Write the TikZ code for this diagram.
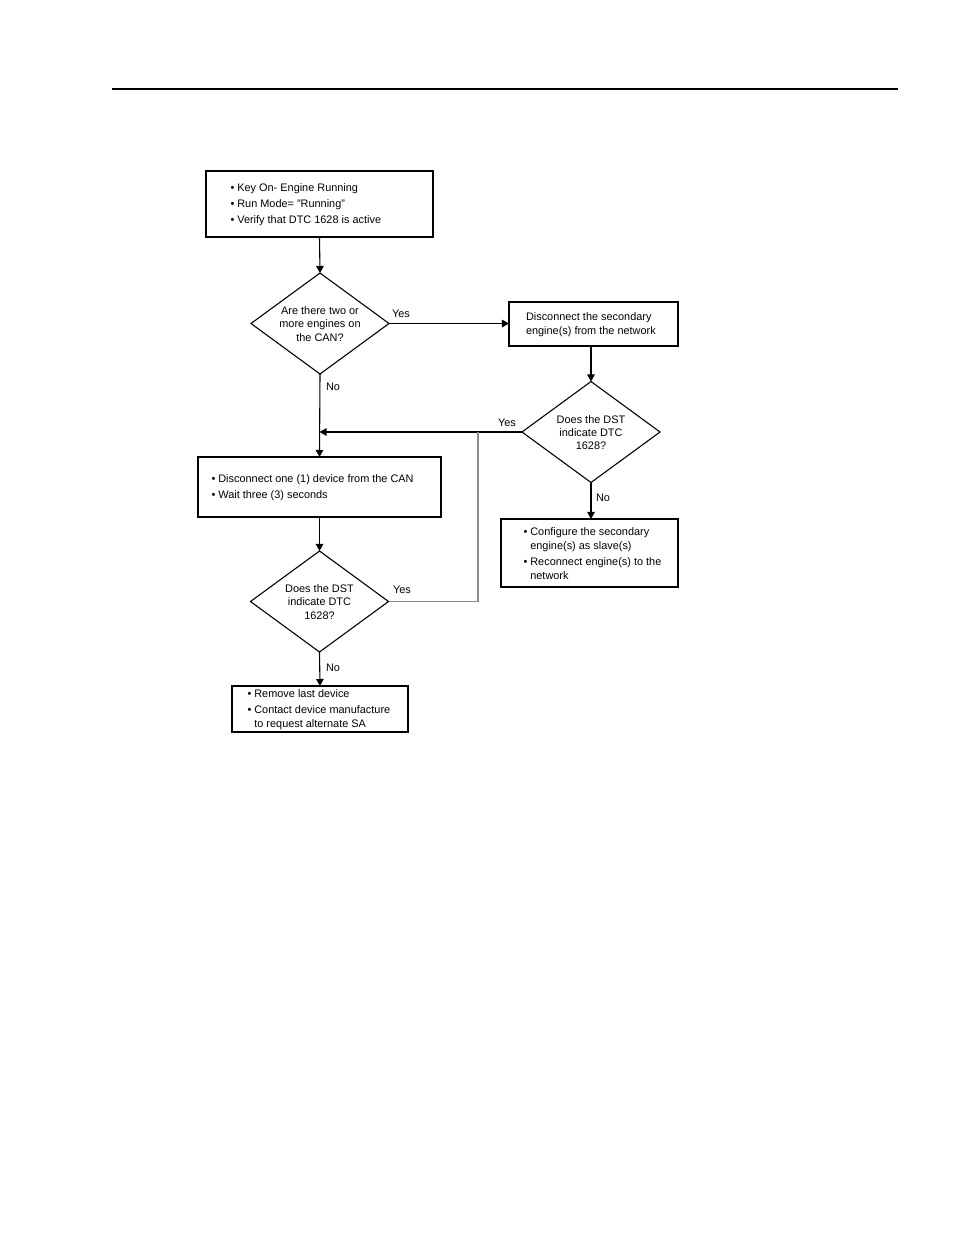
\documentclass[tikz,border=0pt]{standalone}
\usepackage{fontspec}
\setmainfont{Liberation Sans}
\usetikzlibrary{shapes.geometric,arrows.meta}
\newcommand\bul{\makebox[4.4pt][l]{\textbullet}}
\newcommand\ind{\hspace*{4.4pt}}
\begin{document}
\begin{tikzpicture}[x=0.6415pt,y=-0.6415pt,
  every node/.style={inner sep=0pt, outer sep=0pt, font=\fontsize{7}{9}\selectfont},
  boxn/.style 2 args={draw, line width=0.7pt, rectangle, minimum width=#1*0.6415pt, minimum height=#2*0.6415pt},
  dia/.style={draw, line width=0.7pt, diamond, minimum width=138*0.6415pt, minimum height=101*0.6415pt},
  txt/.style={anchor=west, align=left},
  dtxt/.style={align=center, font=\fontsize{7}{8.4}\selectfont},
  arr/.style={line width=0.7pt, -{Triangle[length=4.5pt,width=4.8pt]}},
  gline/.style={line width=0.7pt, draw=black!45}]
\useasboundingbox (0,0) rectangle (954,1235);
% header rule
\draw[line width=0.7pt] (112,89) -- (898,89);

% boxes
\node[boxn={227}{66}] (b1) at (319.5,204) {};
\node[txt] (t1) at (230.5,205) {\bul Key On- Engine Running\\[1.3pt]\bul Run Mode= "Running"\\[1.3pt]\bul Verify that DTC 1628 is active};

\node[dia] (d1) at (320,323.5) {};
\node[dtxt] (t2) at (320,324) {Are there two or\\more engines on\\the CAN?};

\node[boxn={169}{44}] (b2) at (593.5,324) {};
\node[txt] (t3) at (526,325) {Disconnect the secondary\\engine(s) from the network};

\node[dia] (d2) at (591,432) {};
\node[dtxt] (t4) at (591,432.5) {Does the DST\\indicate DTC\\1628?};

\node[boxn={243}{60}] (b3) at (319.5,487) {};
\node[txt] (t5) at (211.5,488) {\bul Disconnect one (1) device from the CAN\\[1.3pt]\bul Wait three (3) seconds};

\node[boxn={177}{68}] (b4) at (589.5,553) {};
\node[txt] (t6) at (523.5,553.5) {\bul Configure the secondary\\\ind engine(s) as slave(s)\\[1.3pt]\bul Reconnect engine(s) to the\\\ind network};

\node[dia] (d3) at (319.5,601.5) {};
\node[dtxt] (t7) at (319.5,602) {Does the DST\\indicate DTC\\1628?};

\node[boxn={176}{46}] (b5) at (320,709) {};
\node[txt] (t8) at (247.5,710) {\bul Remove last device\\[1.3pt]\bul Contact device manufacture\\\ind to request alternate SA};

\coordinate (j) at (478,432);

% connectors
\draw[arr] (b1.south) -- (d1.north);
\draw[arr] (d1.east) -- (d1.east -| b2.west);
\draw[arr] (d2.north |- b2.south) -- (d2.north);
\draw[arr] (d1.south) -- (b3.north);
\draw[arr] (d2.west) -- (d2.west -| b3.north);
\draw[arr] (d2.south) -- (d2.south |- b4.north);
\draw[arr] (b3.south) -- (d3.north);
\draw[gline] (d3.east) -| (j);
\draw[arr] (d3.south) -- (b5.north);

% labels
\node (l1) at (401,314) {Yes};
\node (l2) at (333,387) {No};
\node (l3) at (507,423) {Yes};
\node (l4) at (603,498) {No};
\node (l5) at (402,590) {Yes};
\node (l6) at (333,668) {No};
\end{tikzpicture}
\end{document}
